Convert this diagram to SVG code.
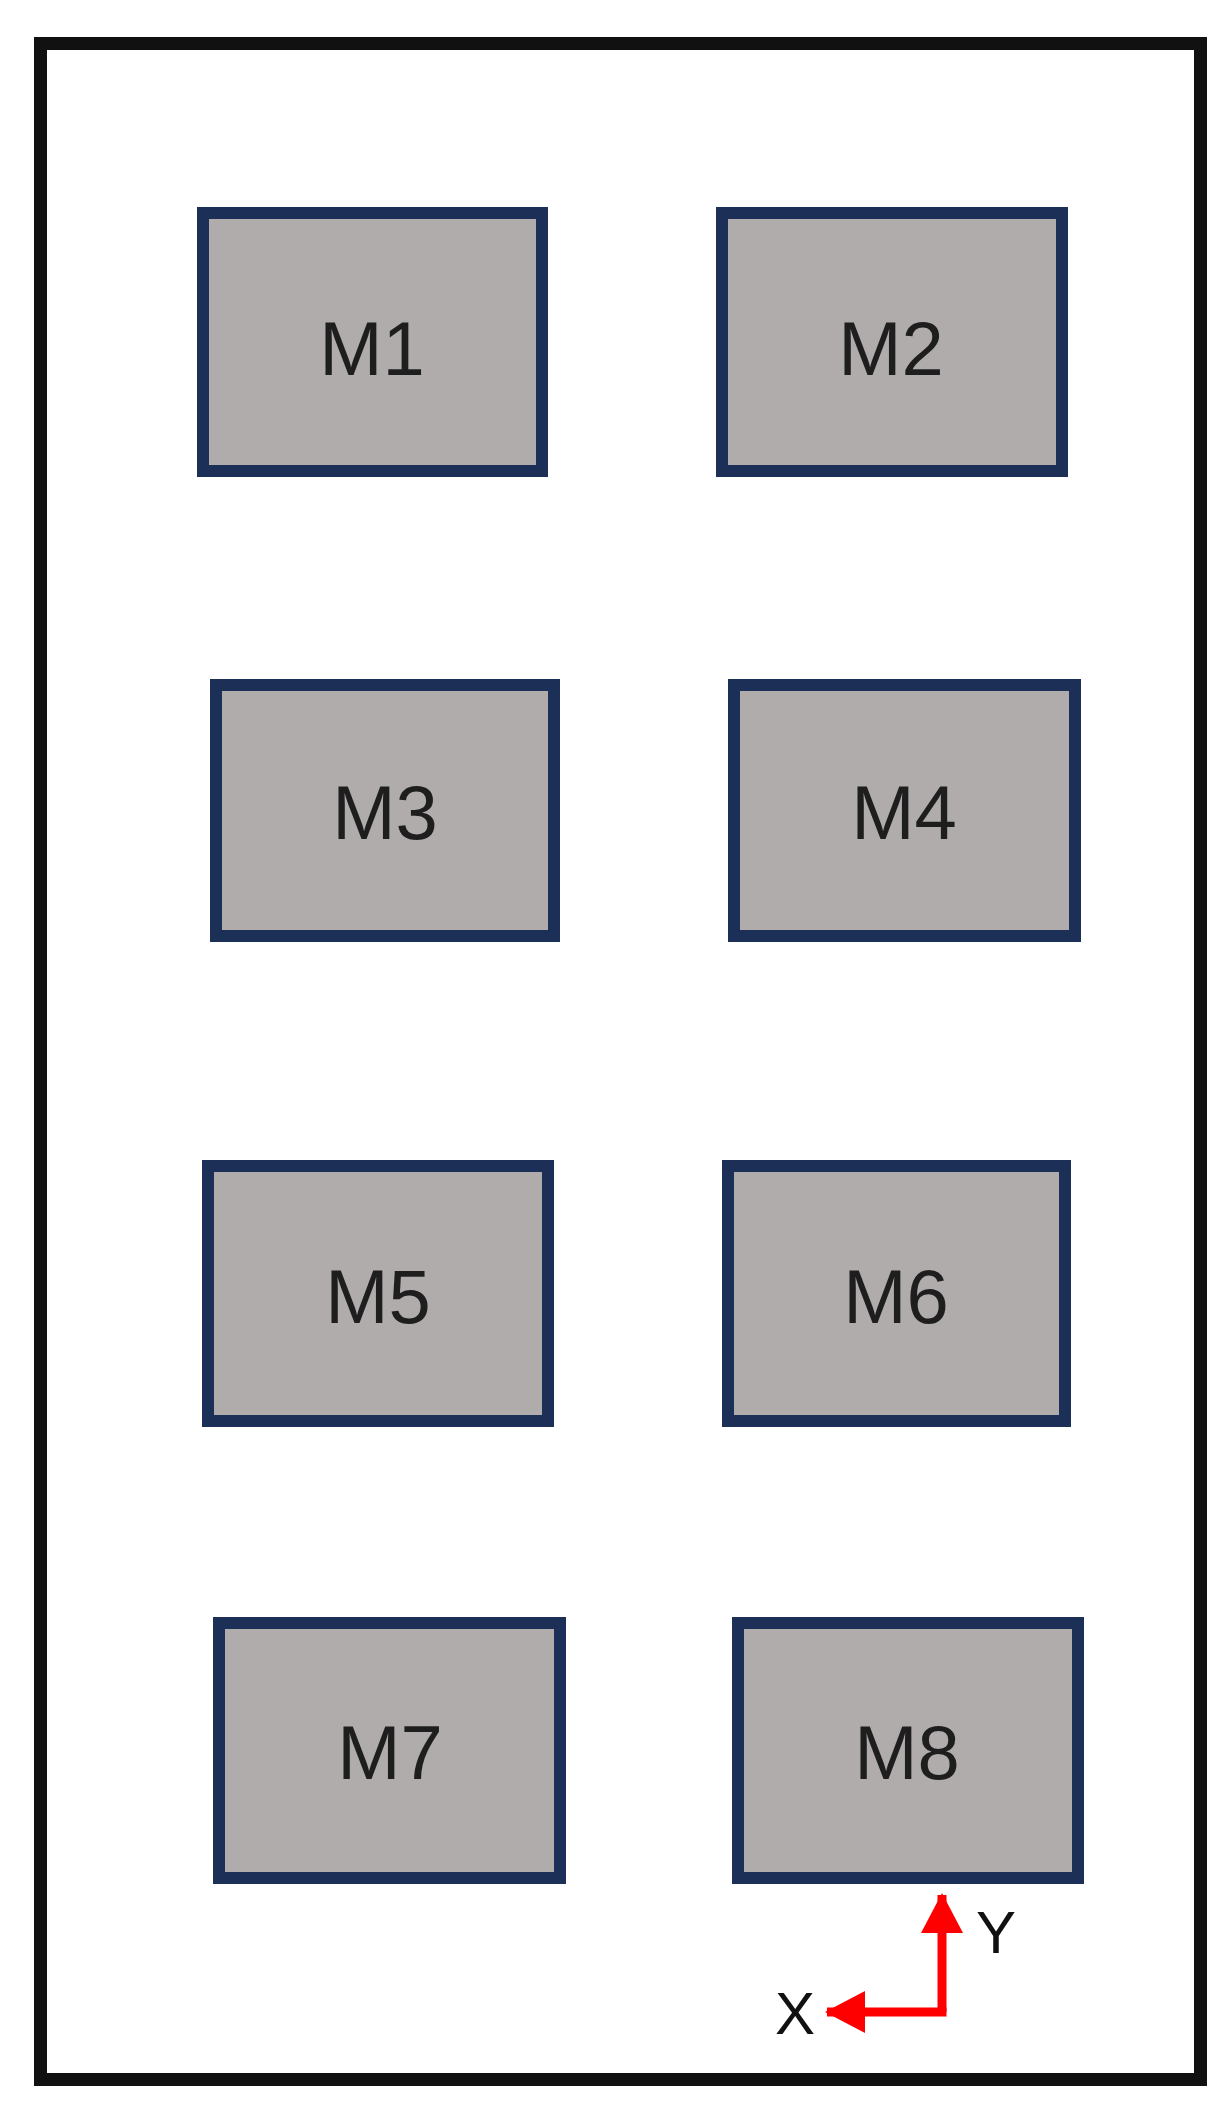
<svg xmlns="http://www.w3.org/2000/svg" width="1227" height="2112" viewBox="0 0 1227 2112">
  <style>
    .frame { fill: #ffffff; stroke: #111111; stroke-width: 13; }
    .box { fill: #afacab; stroke: #1c2f56; stroke-width: 12; }
    .lbl { font-family: "Liberation Sans", Arial, sans-serif; font-size: 76px; fill: #1e1e1e; text-anchor: middle; }
    .axis { fill: none; stroke: #ff0000; stroke-width: 9; }
    .axlbl { font-family: "Liberation Sans", Arial, sans-serif; font-size: 60px; fill: #111111; text-anchor: middle; }
  </style>
  <defs>
    <marker id="arr" viewBox="0 0 40 42" markerWidth="40" markerHeight="42" refX="38" refY="21" orient="auto" markerUnits="userSpaceOnUse">
      <path d="M0,0 L40,21 L0,42 z" fill="#ff0000"/>
    </marker>
  </defs>
  <rect width="1227" height="2112" fill="#ffffff"/>
  <rect class="frame" x="40.5" y="43.5" width="1160" height="2036"/>
  <g id="M1"><rect class="box" x="203" y="213" width="339" height="258"/><text class="lbl" x="372" y="375">M1</text></g>
  <g id="M2"><rect class="box" x="722" y="213" width="340" height="258"/><text class="lbl" x="891" y="375">M2</text></g>
  <g id="M3"><rect class="box" x="216" y="685" width="338" height="251"/><text class="lbl" x="385" y="839">M3</text></g>
  <g id="M4"><rect class="box" x="734" y="685" width="341" height="251"/><text class="lbl" x="904" y="839">M4</text></g>
  <g id="M5"><rect class="box" x="208" y="1166" width="340" height="255"/><text class="lbl" x="378" y="1323">M5</text></g>
  <g id="M6"><rect class="box" x="728" y="1166" width="337" height="255"/><text class="lbl" x="896" y="1323">M6</text></g>
  <g id="M7"><rect class="box" x="219" y="1623" width="341" height="255"/><text class="lbl" x="390" y="1779">M7</text></g>
  <g id="M8"><rect class="box" x="738" y="1623" width="340" height="255"/><text class="lbl" x="907" y="1779">M8</text></g>
  <g id="connectors">
    <path class="axis" d="M942,2012 L942,1895" marker-end="url(#arr)"/>
    <path class="axis" d="M946.5,2012 L827,2012" marker-end="url(#arr)"/>
  </g>
  <g id="axis-labels">
    <text class="axlbl" x="996" y="1953">Y</text>
    <text class="axlbl" x="795" y="2034">X</text>
  </g>
</svg>
